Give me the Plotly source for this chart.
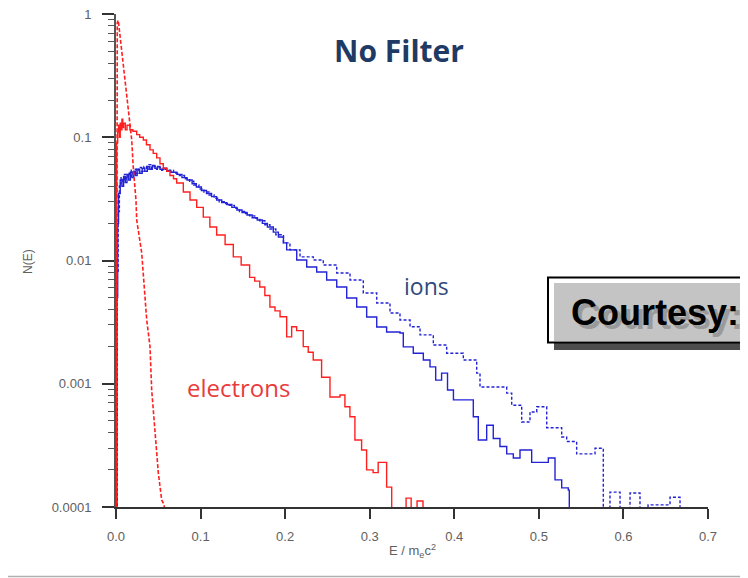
import plotly.graph_objects as go

# ---------------- data ----------------
# electrons, dashed narrow spectrum
elec_dash_x = [0.0005, 0.0015, 0.0027, 0.0067, 0.0106, 0.0145, 0.0186, 0.0204, 0.0236, 0.0245,
               0.0304, 0.0363, 0.0402, 0.0422, 0.0461, 0.0500, 0.0540, 0.0570, 0.0600]
elec_dash_y = [1e-5, 0.85, 0.89, 0.51, 0.308, 0.166, 0.095, 0.057, 0.031, 0.0213,
               0.0115, 0.0033, 0.0020, 0.00089, 0.0004, 0.00019, 0.000114, 0.000104, 1e-5]

# electrons, solid broad spectrum
elec_x = [0.0000, 0.0008, 0.002, 0.003, 0.004, 0.005, 0.006, 0.007, 0.008, 0.009, 0.011, 0.013,
          0.0165, 0.020, 0.0245, 0.028, 0.0323, 0.036, 0.0402, 0.044, 0.0481, 0.052, 0.0559,
          0.060, 0.0638, 0.068, 0.0717, 0.0796, 0.0875, 0.0954, 0.1032, 0.111, 0.119, 0.129,
          0.1387, 0.148, 0.158, 0.164, 0.170, 0.176, 0.182, 0.188, 0.194, 0.2018, 0.2077,
          0.2136, 0.2214, 0.2273, 0.2332, 0.2431, 0.253, 0.2648, 0.2707, 0.2766, 0.2825,
          0.2904, 0.2963, 0.304, 0.310, 0.316, 0.320, 0.326, 0.343, 0.349, 0.356, 0.363]
elec_y = [1e-5, 0.09, 0.11, 0.125, 0.10, 0.13, 0.115, 0.14, 0.12, 0.13, 0.115, 0.125,
          0.115, 0.112, 0.105, 0.10, 0.095, 0.087, 0.079, 0.074, 0.068, 0.061, 0.056,
          0.053, 0.049, 0.046, 0.0425, 0.036, 0.031, 0.027, 0.0225, 0.0187, 0.0161, 0.0135,
          0.0107, 0.0092, 0.0073, 0.0068, 0.0061, 0.0052, 0.0042, 0.0039, 0.0035, 0.0024, 0.0029,
          0.0027, 0.0020, 0.0018, 0.00156, 0.00113, 0.00078, 0.00081, 0.00065, 0.00054, 0.00035,
          0.00029, 0.00020, 0.00019, 0.00023, 0.00023, 0.000145, 1e-5, 0.000118, 1e-5, 0.000112, 1e-5]

# ions, solid
ion_x = [0.0000, 0.001, 0.002, 0.003, 0.005, 0.007, 0.009, 0.011, 0.013, 0.015, 0.017, 0.019,
         0.021, 0.023, 0.025, 0.028, 0.031, 0.034, 0.037, 0.040, 0.043, 0.046, 0.049, 0.052,
         0.056, 0.060, 0.065, 0.072, 0.078, 0.084, 0.090, 0.095, 0.101, 0.107, 0.113, 0.119,
         0.125, 0.131, 0.137, 0.143, 0.149, 0.155, 0.161, 0.167, 0.173, 0.179, 0.186, 0.192,
         0.198, 0.2018, 0.2137, 0.2255, 0.2373, 0.2491, 0.261, 0.2728, 0.2846, 0.2964, 0.3083,
         0.320, 0.3358, 0.3397, 0.3515, 0.3634, 0.3713, 0.378, 0.385, 0.392, 0.399, 0.4225,
         0.4284, 0.4383, 0.4461, 0.454, 0.462, 0.4698, 0.4777, 0.4915, 0.5112, 0.5191, 0.527,
         0.5348, 0.536]
ion_y = [1e-5, 0.005, 0.02, 0.035, 0.045, 0.040, 0.048, 0.043, 0.050, 0.045, 0.052, 0.047,
         0.053, 0.049, 0.055, 0.051, 0.056, 0.053, 0.058, 0.055, 0.059, 0.056, 0.058, 0.055,
         0.056, 0.053, 0.052, 0.050, 0.047, 0.045, 0.042, 0.0395, 0.037, 0.035, 0.033, 0.031,
         0.0295, 0.0285, 0.027, 0.0257, 0.0245, 0.0234, 0.0222, 0.0213, 0.020, 0.0187, 0.017, 0.0155,
         0.0139, 0.0122, 0.0101, 0.00886, 0.00807, 0.00695, 0.0061, 0.00496, 0.0042, 0.00348, 0.00289,
         0.00263, 0.00258, 0.00199, 0.00177, 0.00156, 0.00137, 0.00107, 0.00122, 0.00089, 0.00074, 0.00054,
         0.00035, 0.00046, 0.00036, 0.00031, 0.00027, 0.00025, 0.00029, 0.00023, 0.00025, 0.000166, 0.000143,
         0.000137, 1e-5]

# ions, dotted
ion_dot_x = [0.0005, 0.0015, 0.0025, 0.004, 0.006, 0.008, 0.010, 0.012, 0.014, 0.016, 0.018, 0.020,
             0.022, 0.024, 0.027, 0.030, 0.033, 0.036, 0.039, 0.042, 0.045, 0.048, 0.051, 0.054,
             0.058, 0.062, 0.068, 0.075, 0.081, 0.087, 0.092, 0.098, 0.104, 0.110, 0.116, 0.122,
             0.128, 0.134, 0.140, 0.146, 0.152, 0.158, 0.164, 0.170, 0.176, 0.182, 0.189,
             0.198, 0.2057, 0.2176, 0.2333, 0.2451, 0.261, 0.2767, 0.2924, 0.3083, 0.324, 0.3358,
             0.3477, 0.3595, 0.3752, 0.391, 0.4107, 0.4265, 0.4304, 0.462, 0.4679, 0.4797, 0.4895,
             0.4975, 0.5093, 0.527, 0.5329, 0.5447, 0.5664, 0.5762, 0.5841, 0.596, 0.6078, 0.6196,
             0.6291, 0.6551, 0.6669]
ion_dot_y = [1e-5, 0.008, 0.025, 0.042, 0.047, 0.044, 0.050, 0.046, 0.051, 0.048, 0.054, 0.050,
             0.055, 0.051, 0.057, 0.053, 0.058, 0.055, 0.060, 0.056, 0.058, 0.055, 0.057, 0.054,
             0.055, 0.054, 0.051, 0.049, 0.046, 0.044, 0.041, 0.038, 0.036, 0.034, 0.032, 0.030,
             0.029, 0.028, 0.0265, 0.025, 0.024, 0.023, 0.022, 0.021, 0.0195, 0.018, 0.0162,
             0.0139, 0.0122, 0.0107, 0.0101, 0.0092, 0.00792, 0.00695, 0.00545, 0.00452, 0.00375, 0.00329,
             0.0029, 0.00249, 0.00206, 0.00177, 0.00156, 0.00122, 0.00094, 0.00084, 0.00067, 0.00049, 0.00059,
             0.00065, 0.00044, 0.00037, 0.00034, 0.00027, 0.00030, 1e-5, 0.000132, 1e-5, 0.00013, 1e-5,
             0.000104, 0.00012, 1e-5]

x_ticks = [0.0, 0.1, 0.2, 0.3, 0.4, 0.5, 0.6, 0.7]
x_tick_text = ["0.0", "0.1", "0.2", "0.3", "0.4", "0.5", "0.6", "0.7"]
y_ticks = [0.0001, 0.001, 0.01, 0.1, 1]
y_tick_text = ["0.0001", "0.001", "0.01", "0.1", "1"]

# ---------------- layout geometry ----------------
# The page body adds an 8px offset, so figure margins are shifted by it.
W, H = 748, 578
OFF = 8
PL, PT, PR, PB = 116, 14, 708, 507          # target plot box in screen pixels
ML, MT = PL - OFF, PT - OFF
MR = W - (PR - OFF)
MB = H - (PB - OFF)
PW, PH = PR - PL, PB - PT


def px(xs):
    return (xs - PL) / PW


def py(ys):
    return (PB - ys) / PH


RED = "#ff1f1f"
BLUE = "#2323d6"
GRAY = "#606060"

fig = go.Figure()
fig.add_trace(go.Scatter(x=ion_dot_x, y=ion_dot_y, mode="lines", line_shape="hv",
                         line=dict(color=BLUE, width=1.4, dash="3px,2px"), showlegend=False))
fig.add_trace(go.Scatter(x=ion_x, y=ion_y, mode="lines", line_shape="hv",
                         line=dict(color=BLUE, width=1.4), showlegend=False))
fig.add_trace(go.Scatter(x=elec_x, y=elec_y, mode="lines", line_shape="hv",
                         line=dict(color=RED, width=1.4), showlegend=False))
fig.add_trace(go.Scatter(x=elec_dash_x, y=elec_dash_y, mode="lines",
                         line=dict(color=RED, width=1.6, dash="4px,2px"), showlegend=False))

minor_vals = [m * 10 ** e for e in range(-4, 0) for m in range(2, 10)]

fig.update_layout(
    width=W, height=H,
    margin=dict(l=ML, r=MR, t=MT, b=MB, autoexpand=False),
    paper_bgcolor="white", plot_bgcolor="white",
    font=dict(family="Liberation Sans, Arial, sans-serif", color=GRAY),
    xaxis=dict(range=[0, 0.7], tickmode="array", tickvals=x_ticks, ticktext=x_tick_text,
               showgrid=False, zeroline=False, showline=True, linecolor="#333333", linewidth=2,
               ticks="outside", ticklen=10, tickwidth=1.5, tickcolor="#333333", automargin=False,
               tickfont=dict(size=13, color=GRAY), ticklabelstandoff=6, ticklabeloverflow="allow"),
    yaxis=dict(type="log", range=[-4, 0], tickmode="array", tickvals=y_ticks, ticktext=y_tick_text,
               showgrid=False, zeroline=False, showline=True, linecolor="#555555", linewidth=2,
               ticks="outside", ticklen=12, tickwidth=1.5, tickcolor="#333333", automargin=False,
               tickfont=dict(size=13, color=GRAY), ticklabelstandoff=8, ticklabeloverflow="allow",
               minor=dict(tickmode="array", tickvals=minor_vals, ticks="outside", ticklen=6,
                          tickwidth=1.2, tickcolor="#555555", showgrid=False)),
)


def label(text, xs, ys, size, color, family=None, **kw):
    f = dict(size=size, color=color)
    if family:
        f["family"] = family
    d = dict(text=text, x=px(xs), y=py(ys), xref="paper", yref="paper", showarrow=False,
             xanchor="center", yanchor="middle", font=f)
    d.update(kw)
    return d


ann = [
    label("<b>No Filter</b>", 399, 50, 30, "#1f3a64", "Open Sans, sans-serif"),
    label("ions", 426, 286, 23, "#2f4a7c", "Open Sans, sans-serif"),
    label("electrons", 238, 387, 24, "#e83c3c", "Open Sans, sans-serif"),
    label("E / m<sub>e</sub>c<sup>2</sup>", 412, 551, 13, GRAY),
    label("N(E)", 28, 262, 12, GRAY, textangle=-90),
    label("<b>Courtesy:</b>", 573, 316, 36, "#9a9a9a", "Liberation Sans, Arial", xanchor="left"),
    label("<b>Courtesy:</b>", 569, 312, 36, "#000000", "Liberation Sans, Arial", xanchor="left"),
]
fig.update_layout(annotations=ann)


def rect(x0, x1, y0, y1, **kw):
    d = dict(type="rect", xref="paper", yref="paper", x0=px(x0), x1=px(x1), y0=py(y1), y1=py(y0),
             layer="above")
    d.update(kw)
    return d


shapes = [
    rect(554, 780, 342, 350, fillcolor="#4d4d4d", line=dict(width=0)),                   # shadow
    rect(548, 780, 277.5, 342.5, fillcolor="white", line=dict(color="black", width=2)),   # frame
    rect(554, 780, 283, 341, fillcolor="#c4c4c4", line=dict(width=0)),                   # gray box
    dict(type="line", xref="paper", yref="paper", x0=px(0), x1=px(760), y0=py(576.5), y1=py(576.5),
         line=dict(color="#b0b0b0", width=1.5), layer="above"),
]
fig.update_layout(shapes=shapes)

fig.write_html("out.html")
